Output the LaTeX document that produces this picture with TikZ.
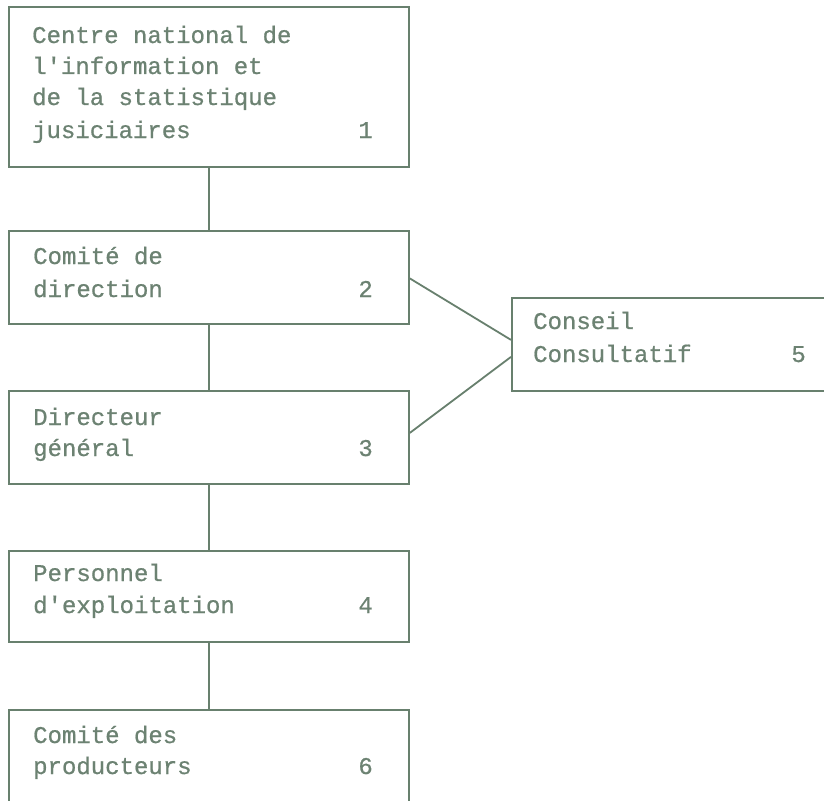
\documentclass[tikz,border=0pt]{standalone}
\usepackage{fontspec}
\setmonofont[FakeBold=0.7]{Liberation Mono}
\definecolor{boxink}{RGB}{104,128,110}
\definecolor{textink}{RGB}{108,130,114}
\begin{document}
\begin{tikzpicture}[x=1pt,y=-1pt,
  box/.style={draw=boxink, line width=1.8pt, rectangle, inner sep=0pt, anchor=north west},
  link/.style={draw=boxink, line width=1.8pt},
  lbl/.style={inner sep=0pt, anchor=base west, text=textink, font=\ttfamily\fontsize{24}{30}\selectfont},
  num/.style={inner sep=0pt, anchor=base east, text=textink, font=\ttfamily\fontsize{24}{30}\selectfont}]
\clip (0,0) rectangle (824,800);
\fill[white] (0,0) rectangle (824,800);

% boxes
\node[box, minimum width=400pt, minimum height=160pt] (b1) at (8,6) {};
\node[box, minimum width=400pt, minimum height=93pt] (b2) at (8,230) {};
\node[box, minimum width=400pt, minimum height=93pt] (b3) at (8,390) {};
\node[box, minimum width=400pt, minimum height=91pt] (b4) at (8,550) {};
\node[box, minimum width=400pt, minimum height=110pt] (b6) at (8,709) {};
\node[box, minimum width=330pt, minimum height=93pt] (b5) at (511,297) {};

% box 1
\node[lbl] (t1a) at (32,43) {Centre national de};
\node[lbl] (t1b) at (32,74) {l'information et};
\node[lbl] (t1c) at (32,105) {de la statistique};
\node[lbl] (t1d) at (32,138) {jusiciaires};
\node[num] (n1) at (373,138) {1};

% box 2
\node[lbl] (t2a) at (33,264) {Comité de};
\node[lbl] (t2b) at (33,297) {direction};
\node[num] (n2) at (373,297) {2};

% box 3
\node[lbl] (t3a) at (33,425) {Directeur};
\node[lbl] (t3b) at (33,456) {général};
\node[num] (n3) at (373,456) {3};

% box 4
\node[lbl] (t4a) at (33,581) {Personnel};
\node[lbl] (t4b) at (33,613) {d'exploitation};
\node[num] (n4) at (373,613) {4};

% box 6
\node[lbl] (t6a) at (33,743) {Comité des};
\node[lbl] (t6b) at (33,774) {producteurs};
\node[num] (n6) at (373,774) {6};

% box 5
\node[lbl] (t5a) at (533,329) {Conseil};
\node[lbl] (t5b) at (533,362) {Consultatif};
\node[num] (n5) at (806,362) {5};

% vertical chain
\draw[link] (b1.south) -- (b2.north);
\draw[link] (b2.south) -- (b3.north);
\draw[link] (b3.south) -- (b4.north);
\draw[link] (b4.south) -- (b6.north);

% links to the advisory council
\draw[link] ([yshift=-1pt]b2.east) -- ([yshift=4.5pt]b5.west);
\draw[link] ([yshift=4.5pt]b3.east) -- ([yshift=-12.5pt]b5.west);
\end{tikzpicture}
\end{document}
